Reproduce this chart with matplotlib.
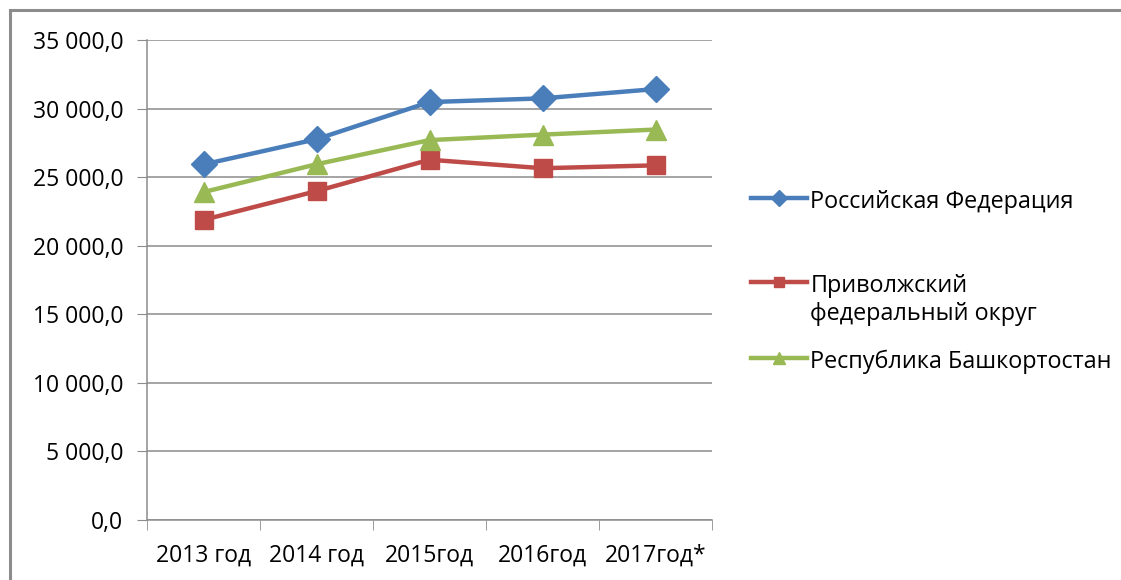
import matplotlib.pyplot as plt
from matplotlib.ticker import FuncFormatter, FixedLocator
from matplotlib.patches import Rectangle

# Среднемесячная заработная плата, руб.
years = ["2013 год", "2014 год", "2015год", "2016год", "2017год*"]
rf = [25928, 27767, 30474, 30744, 31422]
pfo = [21885, 23980, 26270, 25650, 25860]
rb = [23910, 25940, 27700, 28100, 28470]

series = [
    ("Российская Федерация", rf, "#4A7EBB", "D", 13),
    ("Приволжский\nфедеральный округ", pfo, "#BE4B48", "s", 13),
    ("Республика Башкортостан", rb, "#98B954", "^", 14),
]

plt.rcParams['font.family'] = ['Open Sans', 'DejaVu Sans']

fig = plt.figure(figsize=(11.21, 5.80), dpi=100)
ax = fig.add_axes([147 / 1121, 60 / 580, 565 / 1121, 480 / 580])

# рамка вокруг диаграммы
fig.add_artist(Rectangle((10 / 1121, -0.1), 1.2, 0.1 + 570 / 580, transform=fig.transFigure,
                         fill=False, edgecolor="#8c8c8c", linewidth=2.2))

x = list(range(len(years)))
for name, vals, color, marker, ms in series:
    ax.plot(x, vals, color=color, linewidth=3.2, marker=marker, markersize=ms,
            markeredgecolor=color, label=name, zorder=3)

ax.set_xlim(-0.5, len(years) - 0.5)
ax.set_ylim(0, 35000)
ax.set_yticks(range(0, 35001, 5000))
ax.yaxis.set_major_formatter(FuncFormatter(lambda v, p: f"{v:,.1f}".replace(",", " ").replace(".", ",")))
ax.set_xticks(x)
ax.set_xticklabels(years)
ax.xaxis.set_minor_locator(FixedLocator([i - 0.5 for i in range(len(years) + 1)]))
ax.tick_params(axis="x", which="major", length=0, pad=17, labelsize=16.5)
ax.tick_params(axis="x", which="minor", length=7, color="#8c8c8c", direction="out")
ax.tick_params(axis="y", length=7, color="#8c8c8c", labelsize=16.5, pad=10)
ax.grid(axis="y", color="#8c8c8c", linewidth=1.1)
ax.set_axisbelow(True)
for side in ("top", "right"):
    ax.spines[side].set_visible(False)
for side in ("left", "bottom"):
    ax.spines[side].set_color("#8c8c8c")
    ax.spines[side].set_linewidth(1.1)

# легенда справа, по одной записи
handles, labels = ax.get_legend_handles_labels()
anchors = [202, 300, 362]
for h, lab, yy in zip(handles, labels, anchors):
    leg = fig.legend([h], [lab], loc="center left", frameon=False, fontsize=16.8,
                     bbox_to_anchor=(751 / 1121, 1 - yy / 580), handlelength=2.4,
                     handletextpad=0.15, borderaxespad=0, borderpad=0, markerscale=0.6)
    for t in leg.get_texts():
        t.set_linespacing(1.25)
    # маркер у первой строки подписи
    for col in leg._legend_handle_box.get_children():
        for item in col.get_children():
            item.align = "top"

fig.savefig("out.png", dpi=100)
